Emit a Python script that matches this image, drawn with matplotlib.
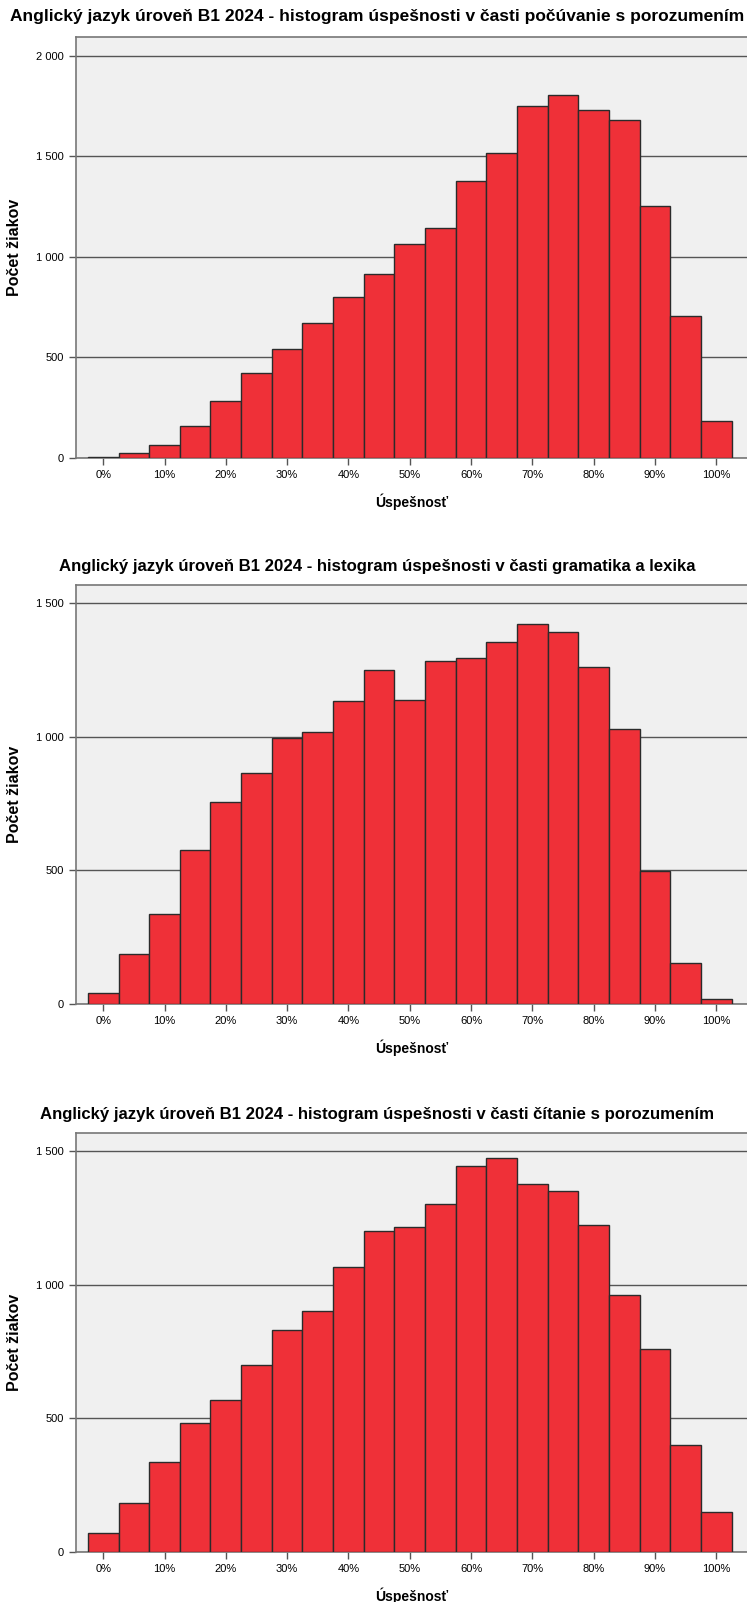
import numpy as np
import matplotlib
matplotlib.use('Agg')
import matplotlib.pyplot as plt
from matplotlib.ticker import FuncFormatter

plt.rcParams['font.family'] = ['Liberation Sans', 'DejaVu Sans']

# stredy intervalov uspesnosti (%)
bins = [0, 5, 10, 15, 20, 25, 30, 35, 40, 45, 50, 55, 60, 65, 70, 75, 80, 85, 90, 95, 100]

pocuvanie = [5, 25, 66, 157, 284, 421, 543, 670, 802, 914, 1061, 1142, 1376, 1518,
             1751, 1802, 1731, 1680, 1254, 706, 183]
gramatika = [42, 188, 337, 578, 758, 865, 995, 1018, 1133, 1251, 1140, 1286, 1294, 1355,
             1424, 1393, 1263, 1029, 498, 153, 19]
citanie = [73, 184, 337, 482, 570, 700, 830, 903, 1068, 1202, 1217, 1305, 1447, 1477,
           1378, 1351, 1225, 964, 762, 402, 149]

titles = ['Anglický jazyk úroveň B1 2024 - histogram úspešnosti v časti počúvanie s porozumením',
          'Anglický jazyk úroveň B1 2024 - histogram úspešnosti v časti gramatika a lexika',
          'Anglický jazyk úroveň B1 2024 - histogram úspešnosti v časti čítanie s porozumením']
series = [pocuvanie, gramatika, citanie]
yticks = [[0, 500, 1000, 1500, 2000], [0, 500, 1000, 1500], [0, 500, 1000, 1500]]
ytops = [2092, 1569, 1569]
xticks = [0, 10, 20, 30, 40, 50, 60, 70, 80, 90, 100]

W, H = 747, 1602
fig = plt.figure(figsize=(W / 100, H / 100), dpi=100)

# (top, bottom) osi v pixeloch, y stredu nadpisu
boxes = [(37, 458, 16.5), (585, 1004, 567), (1133, 1552, 1115)]
title_sizes = [12.5, 12.1, 12.1]
left, right = 75.6, 747

def fmt(v, pos):
    return '{:,}'.format(int(v)).replace(',', ' ')

for i in range(3):
    top, bot, ty = boxes[i]
    ax = fig.add_axes([left / W, 1 - bot / H, (right - left) / W, (bot - top) / H])
    ax.set_facecolor('#F0F0F0')
    ax.bar(bins, series[i], width=5, color='#EF3038', edgecolor='#2b2b2b', linewidth=1, zorder=3)
    ax.set_xlim(-4.5, 105)
    ax.set_ylim(0, ytops[i])
    ax.set_yticks(yticks[i])
    ax.yaxis.set_major_formatter(FuncFormatter(fmt))
    ax.set_xticks(xticks)
    ax.set_xticklabels([str(x) + '%' for x in xticks])
    ax.grid(axis='y', color='#555555', linewidth=1, zorder=1)
    for s in ['left', 'top', 'bottom']:
        ax.spines[s].set_color('#777777')
        ax.spines[s].set_linewidth(1.2)
    ax.spines['right'].set_visible(False)
    ax.tick_params(axis='both', labelsize=8, colors='#555555', labelcolor='black', length=5, width=1)
    ax.set_xlabel('Úspešnosť', fontsize=10, fontweight='bold', labelpad=10)
    ax.set_ylabel('Počet žiakov', fontsize=11.5, fontweight='bold')
    ax.yaxis.set_label_coords(-(left - 22) / (right - left), 0.5)
    fig.text(0.505, 1 - ty / H, titles[i],
             ha='center', va='center', fontsize=title_sizes[i], fontweight='bold')

fig.savefig('out.png', dpi=100)
